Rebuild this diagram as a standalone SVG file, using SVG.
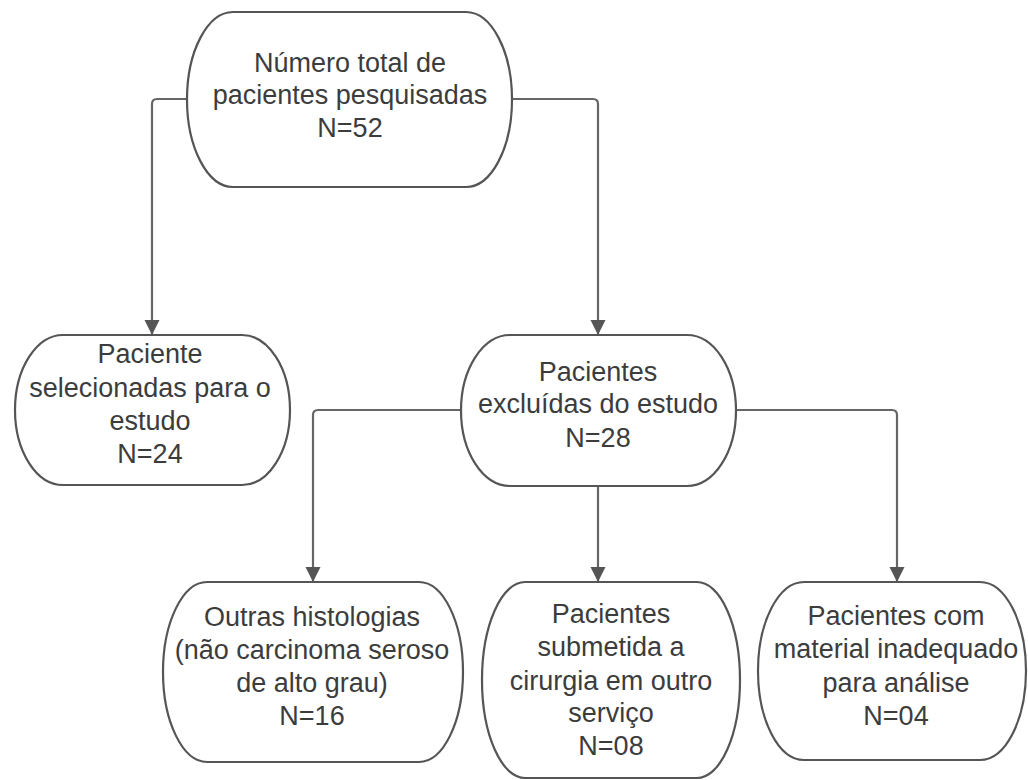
<svg xmlns="http://www.w3.org/2000/svg" width="1028" height="780" viewBox="0 0 1028 780">
<style>
.node{fill:#ffffff;stroke:#555555;stroke-width:2.2}
.edge{fill:none;stroke:#666666;stroke-width:2.2;stroke-linejoin:round}
text{font-family:"Liberation Sans",Arial,sans-serif;font-size:27px;fill:#3c3c3c;text-anchor:middle}
</style>
<defs>
<marker id="arr" markerUnits="userSpaceOnUse" markerWidth="16" markerHeight="18" refX="15" refY="7.5" orient="auto">
<path d="M0,0 L15,7.5 L0,15 Z" fill="#555555"/>
</marker>
</defs>
<rect width="1028" height="780" fill="#ffffff"/>
<g id="connectors">
<path class="edge" d="M187,99 H157 Q152,99 152,104 V335" marker-end="url(#arr)"/>
<path class="edge" d="M512,99 H593 Q598,99 598,104 V335" marker-end="url(#arr)"/>
<path class="edge" d="M461,410 H318 Q313,410 313,415 V582" marker-end="url(#arr)"/>
<path class="edge" d="M598,486 V582" marker-end="url(#arr)"/>
<path class="edge" d="M736,410 H892 Q897,410 897,415 V582" marker-end="url(#arr)"/>
</g>
<g id="n-total">
<path class="node" d="M233,12 H466 A46,87.5 0 0 1 466,187 H233 A46,87.5 0 0 1 233,12 Z"/>
<text x="350" y="72">Número total de</text>
<text x="350" y="104">pacientes pesquisadas</text>
<text x="350" y="137">N=52</text>
</g>
<g id="n-selecionadas">
<path class="node" d="M63,335 H242 A48,75 0 0 1 242,485 H63 A48,75 0 0 1 63,335 Z"/>
<text x="150" y="363">Paciente</text>
<text x="150" y="397">selecionadas para o</text>
<text x="150" y="430">estudo</text>
<text x="150" y="463">N=24</text>
</g>
<g id="n-excluidas">
<path class="node" d="M510,335 H687 A49,75.5 0 0 1 687,486 H510 A49,75.5 0 0 1 510,335 Z"/>
<text x="598" y="381">Pacientes</text>
<text x="598" y="413">excluídas do estudo</text>
<text x="598" y="447">N=28</text>
</g>
<g id="n-histologias">
<path class="node" d="M207,582 H419 A44,90 0 0 1 419,762 H207 A44,90 0 0 1 207,582 Z"/>
<text x="312" y="626">Outras histologias</text>
<text x="312" y="659">(não carcinoma seroso</text>
<text x="312" y="692">de alto grau)</text>
<text x="312" y="725">N=16</text>
</g>
<g id="n-cirurgia">
<path class="node" d="M525,582 H697 A43,98 0 0 1 697,778 H525 A43,98 0 0 1 525,582 Z"/>
<text x="611" y="623">Pacientes</text>
<text x="611" y="656">submetida a</text>
<text x="611" y="690">cirurgia em outro</text>
<text x="611" y="722">serviço</text>
<text x="611" y="755">N=08</text>
</g>
<g id="n-material">
<path class="node" d="M804,582 H980 A46,89 0 0 1 980,760 H804 A46,89 0 0 1 804,582 Z"/>
<text x="896" y="625">Pacientes com</text>
<text x="896" y="658">material inadequado</text>
<text x="896" y="692">para análise</text>
<text x="896" y="725">N=04</text>
</g>
</svg>
